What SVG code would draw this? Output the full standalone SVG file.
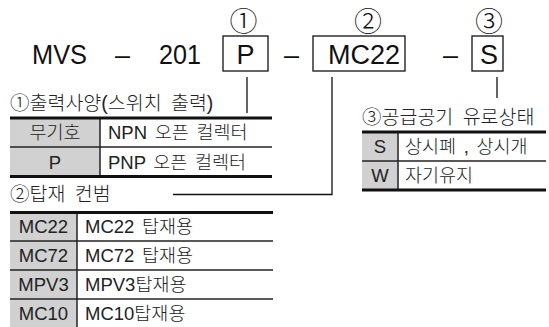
<svg xmlns="http://www.w3.org/2000/svg" width="549" height="327" viewBox="0 0 549 327">
<style>
  .big{font-family:"Liberation Sans","Noto Sans CJK KR",sans-serif;font-size:27px;fill:#111}
  .circ{font-family:"Noto Sans CJK KR","Liberation Sans",sans-serif;font-size:28px;font-weight:300;fill:#111;text-anchor:middle}
  .ttl{font-family:"Liberation Sans","Noto Sans CJK KR",sans-serif;font-size:19.5px;font-weight:300;word-spacing:4px;fill:#222}
  .cell{font-family:"Liberation Sans","Noto Sans CJK KR",sans-serif;font-size:18.5px;font-weight:300;word-spacing:2.5px;fill:#222}
  .mid{text-anchor:middle}
  .box{fill:#fff;stroke:#111;stroke-width:1.3}
  .conn{stroke:#111;stroke-width:1.3;fill:none}
  .gray{fill:#d1d1d1}
  .thick{stroke:#111;stroke-width:3}
  .thin{stroke:#222;stroke-width:1.5}
</style>
<rect width="549" height="327" fill="#fff"/>

<g id="code">
  <text class="big" x="32" y="64" textLength="55" lengthAdjust="spacingAndGlyphs">MVS</text>
  <text class="big" x="115" y="64">–</text>
  <text class="big" x="159" y="64" textLength="42" lengthAdjust="spacingAndGlyphs">201</text>
  <text class="big" x="284" y="64">–</text>
  <text class="big" x="443" y="64">–</text>
</g>

<g id="nodeP">
  <rect class="box" x="223" y="36" width="45" height="35"/>
  <text class="big mid" x="245.5" y="64">P</text>
  <text class="circ" x="243.5" y="32">①</text>
</g>

<g id="nodeMC22">
  <rect class="box" x="313" y="36" width="92" height="35"/>
  <text class="big" x="328" y="64">MC22</text>
  <text class="circ" x="368" y="32">②</text>
</g>

<g id="nodeS">
  <rect class="box" x="472" y="36" width="31" height="35"/>
  <text class="big mid" x="489" y="64">S</text>
  <text class="circ" x="489" y="32">③</text>
</g>

<g id="connectors">
  <line class="conn" x1="247" y1="77" x2="247" y2="113"/>
  <polyline class="conn" points="332,77 332,194.5 173,194.5"/>
  <line class="conn" x1="497" y1="77" x2="497" y2="98"/>
</g>

<g id="table1">
  <text class="ttl" x="10" y="110">①출력사양(스위치 출력)</text>
  <rect class="gray" x="10" y="118" width="90" height="58.5"/>
  <line class="thin" x1="10" y1="147" x2="272" y2="147"/>
  <line class="thin" x1="100" y1="118" x2="100" y2="176.5"/>
  <line class="thick" x1="10" y1="118" x2="272" y2="118"/>
  <line class="thick" x1="10" y1="176.5" x2="272" y2="176.5"/>
  <text class="cell mid" x="55" y="139">무기호</text>
  <text class="cell" x="108" y="139">NPN 오픈 컬렉터</text>
  <text class="cell mid" x="55" y="168.5">P</text>
  <text class="cell" x="108" y="168.5">PNP 오픈 컬렉터</text>
</g>

<g id="table2">
  <text class="ttl" x="10" y="201">②탑재 컨범</text>
  <rect class="gray" x="10" y="212.5" width="67" height="115"/>
  <line class="thin" x1="10" y1="241" x2="273" y2="241"/>
  <line class="thin" x1="10" y1="270" x2="273" y2="270"/>
  <line class="thin" x1="10" y1="299" x2="273" y2="299"/>
  <line class="thin" x1="77" y1="212.5" x2="77" y2="327"/>
  <line class="thick" x1="10" y1="212.5" x2="273" y2="212.5"/>
  <text class="cell mid" x="43.5" y="233">MC22</text>
  <text class="cell" x="85" y="233">MC22 탑재용</text>
  <text class="cell mid" x="43.5" y="262">MC72</text>
  <text class="cell" x="85" y="262">MC72 탑재용</text>
  <text class="cell mid" x="43.5" y="291">MPV3</text>
  <text class="cell" x="85" y="291">MPV3탑재용</text>
  <text class="cell mid" x="43.5" y="320">MC10</text>
  <text class="cell" x="85" y="320">MC10탑재용</text>
</g>

<g id="table3">
  <text class="ttl" x="362" y="123.5">③공급공기 유로상태</text>
  <rect class="gray" x="362" y="132" width="36" height="58"/>
  <line class="thin" x1="362" y1="161" x2="546" y2="161"/>
  <line class="thin" x1="398" y1="132" x2="398" y2="190"/>
  <line class="thick" x1="362" y1="132" x2="546" y2="132"/>
  <line class="thick" x1="362" y1="190" x2="546" y2="190"/>
  <text class="cell mid" x="380" y="153">S</text>
  <text class="cell" x="405" y="153">상시폐 , 상시개</text>
  <text class="cell mid" x="380" y="182">W</text>
  <text class="cell" x="405" y="182">자기유지</text>
</g>
</svg>
